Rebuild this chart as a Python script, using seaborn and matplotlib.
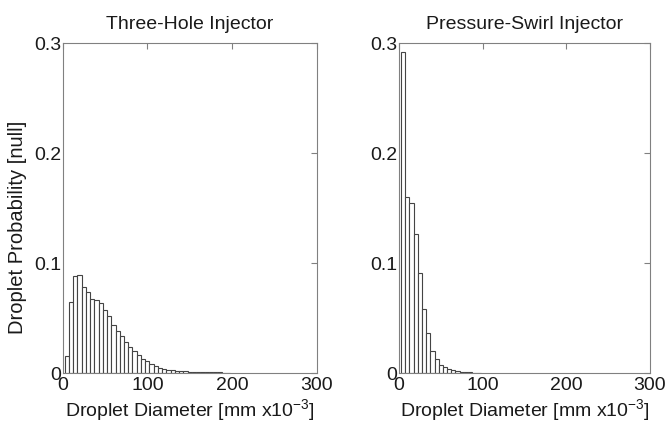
import matplotlib
matplotlib.use("Agg")
import matplotlib.pyplot as plt
import seaborn as sns
import numpy as np
import pandas as pd

# Data: bin centres (mm x10^-3) and probabilities
three_hole_centers = [5 * k for k in range(1, 40)]
three_hole_prob = [0.0154, 0.0646, 0.0883, 0.0889, 0.0778, 0.0732, 0.0677, 0.0662,
                   0.0640, 0.0569, 0.0514, 0.0440, 0.0385, 0.0335, 0.0280, 0.0238,
                   0.0198, 0.0160, 0.0130, 0.0107, 0.0085, 0.0064, 0.0049, 0.0037,
                   0.0030, 0.0024, 0.0020, 0.0018, 0.0015, 0.0012, 0.0010, 0.0009,
                   0.0008, 0.0007, 0.0006, 0.0005, 0.0005, 0.0004, 0.0004]
swirl_centers = [5 * k for k in range(1, 20)]
swirl_prob = [0.292, 0.160, 0.155, 0.126, 0.091, 0.058, 0.036, 0.020, 0.0127,
              0.0072, 0.0054, 0.0036, 0.0027, 0.0018, 0.0012, 0.0009, 0.0006,
              0.0004, 0.0003]
titles = ["Three-Hole Injector", "Pressure-Swirl Injector"]
x_ticks = [0, 100, 200, 300]
y_ticks = [0, 0.1, 0.2, 0.3]
y_ticklabels = ["0", "0.1", "0.2", "0.3"]

sns.set_style("white")
plt.rcParams["font.family"] = ["Liberation Sans", "DejaVu Sans"]
plt.rcParams["mathtext.fontset"] = "custom"
plt.rcParams["mathtext.rm"] = "Liberation Sans"
plt.rcParams["mathtext.it"] = "Liberation Sans"

fig = plt.figure(figsize=(6.68, 4.25), dpi=100)
W, H = 668, 425
ax1 = fig.add_axes([62.5 / W, 1 - 373 / H, (317 - 62.5) / W, 330 / H])
ax2 = fig.add_axes([399 / W, 1 - 373 / H, (650 - 399) / W, 330 / H])

frame_col = "#808080"
text_col = "#1a1a1a"
fs = 14

datasets = [(three_hole_centers, three_hole_prob), (swirl_centers, swirl_prob)]
for ax, (c, p), title in zip([ax1, ax2], datasets, titles):
    df = pd.DataFrame({"d": c, "p": p})
    n = len(c)
    sns.histplot(data=df, x="d", weights="p", binwidth=5,
                 binrange=(2.5, 2.5 + 5 * n), stat="count",
                 color="white", edgecolor="#444444", linewidth=0.8,
                 alpha=1.0, ax=ax)
    ax.set_xlim(0, 300)
    ax.set_ylim(0, 0.3)
    ax.set_xticks(x_ticks)
    ax.set_yticks(y_ticks)
    ax.set_yticklabels(y_ticklabels)
    ax.tick_params(direction="in", top=True, right=True, length=4,
                   width=0.8, color=frame_col, labelsize=fs,
                   labelcolor=text_col)
    ax.tick_params(axis="x", pad=3)
    ax.tick_params(axis="y", pad=1)
    for s in ax.spines.values():
        s.set_color(frame_col)
        s.set_linewidth(0.8)
    ax.set_title(title, fontsize=fs, color=text_col, pad=10)
    ax.set_xlabel(r"Droplet Diameter [mm x10$^{\mathregular{-3}}$]",
                  fontsize=fs, color=text_col, labelpad=2)
    ax.set_ylabel("")

ax1.set_ylabel("Droplet Probability [null]", fontsize=14.5, color=text_col)
ax1.yaxis.set_label_coords(-0.14, 0.44)

fig.savefig("out.png", dpi=100, facecolor="white")
